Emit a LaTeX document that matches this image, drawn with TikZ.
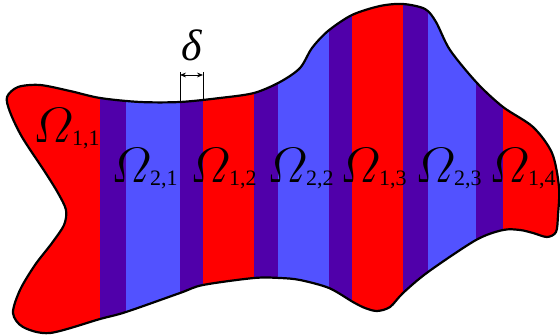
\documentclass[tikz,border=0pt]{standalone}
\usepackage{amsmath}
\usepackage{fontspec}
\setmainfont{Liberation Serif}
\usetikzlibrary{arrows.meta}
\definecolor{cred}{RGB}{255,0,0}
\definecolor{cblue}{RGB}{82,82,255}
\definecolor{cdark}{RGB}{80,0,170}
\newcommand{\Om}[1]{{\fontsize{25}{28}\selectfont$\varOmega$}\kern-0.8pt\raisebox{-1.2pt}{\fontsize{11}{13}\selectfont #1}}
\begin{document}
\begin{tikzpicture}[x=0.5pt,y=-0.5pt,
  lab/.style={inner sep=0pt, anchor=base west},
  outline/.style={line width=1.1pt, line join=round},
  dim/.style={line width=0.4pt}]
\useasboundingbox (0,0) rectangle (560,335);
\begin{scope}
\clip plot[smooth cycle, tension=0.5] coordinates {(7,97) (18,87) (40,85) (70,91) (100,98) (140,102) (180,102) (220,98) (254,93) (280,82) (300,68) (312,48) (328,31) (352,15) (380,6) (403,4) (425,9) (436,22) (450,50) (477,83) (503,107) (533,127) (552,153) (559,187) (558,215) (556,232) (547,237) (533,233) (520,230) (503,230) (476,240) (428,272) (403,293) (390,307) (377,311) (365,308) (353,302) (329,288) (300,280) (280,278) (254,278) (203,285) (180,293) (126,312) (100,319) (50,333) (23,327) (13,313) (20,290) (35,265) (52,243) (64,225) (66,210) (58,193) (45,172) (22,137) (10,112)};
\fill[cred] (0,0) rectangle (100,335);
\fill[cdark] (100,0) rectangle (126,335);
\fill[cblue] (126,0) rectangle (180,335);
\fill[cdark] (180,0) rectangle (203,335);
\fill[cred] (203,0) rectangle (254,335);
\fill[cdark] (254,0) rectangle (278,335);
\fill[cblue] (278,0) rectangle (329,335);
\fill[cdark] (329,0) rectangle (352,335);
\fill[cred] (352,0) rectangle (403,335);
\fill[cdark] (403,0) rectangle (428,335);
\fill[cblue] (428,0) rectangle (476,335);
\fill[cdark] (476,0) rectangle (503,335);
\fill[cred] (503,0) rectangle (560,335);
\end{scope}
\draw[outline] plot[smooth cycle, tension=0.5] coordinates {(7,97) (18,87) (40,85) (70,91) (100,98) (140,102) (180,102) (220,98) (254,93) (280,82) (300,68) (312,48) (328,31) (352,15) (380,6) (403,4) (425,9) (436,22) (450,50) (477,83) (503,107) (533,127) (552,153) (559,187) (558,215) (556,232) (547,237) (533,233) (520,230) (503,230) (476,240) (428,272) (403,293) (390,307) (377,311) (365,308) (353,302) (329,288) (300,280) (280,278) (254,278) (203,285) (180,293) (126,312) (100,319) (50,333) (23,327) (13,313) (20,290) (35,265) (52,243) (64,225) (66,210) (58,193) (45,172) (22,137) (10,112)};
% delta dimension
\coordinate (d1t) at (180,72);
\coordinate (d1b) at (180,102);
\coordinate (d2t) at (203,72);
\coordinate (d2b) at (203,100.5);
\coordinate (a1) at (180,75);
\coordinate (a2) at (203,75);
\draw[dim] (d1t) -- (d1b);
\draw[dim] (d2t) -- (d2b);
\draw[dim, {Stealth[length=3pt,width=2.4pt]}-{Stealth[length=3pt,width=2.4pt]}] (a1) -- (a2);
\node[inner sep=0pt, anchor=base] (delta) at (192,61) {\fontsize{22}{24}\selectfont\itshape δ};
% labels
\node[lab] (o11) at (33,143) {\Om{1,1}};
\node[lab] (o21) at (111,183) {\Om{2,1}};
\node[lab] (o12) at (190,183) {\Om{1,2}};
\node[lab] (o22) at (267,183) {\Om{2,2}};
\node[lab] (o13) at (340,183) {\Om{1,3}};
\node[lab] (o23) at (415,183) {\Om{2,3}};
\node[lab] (o14) at (489,183) {\Om{1,4}};
\end{tikzpicture}
\end{document}
